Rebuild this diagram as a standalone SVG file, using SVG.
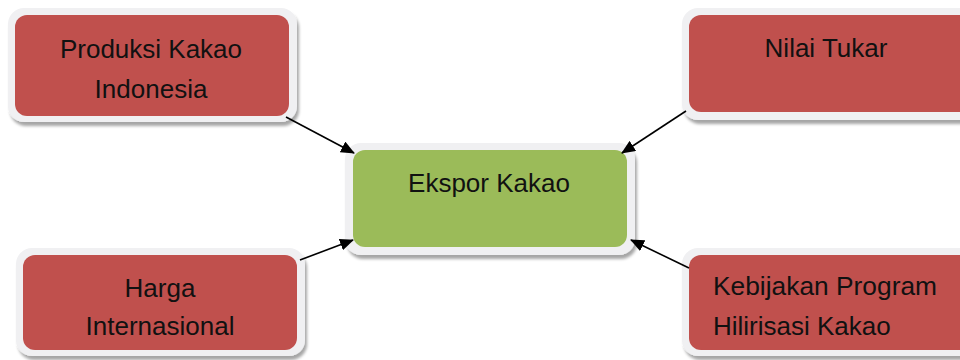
<svg xmlns="http://www.w3.org/2000/svg" width="960" height="360" viewBox="0 0 960 360">
<defs>
<filter id="sh" x="-10%" y="-10%" width="130%" height="140%">
<feGaussianBlur in="SourceAlpha" stdDeviation="1.5"/>
<feOffset dx="2" dy="4" result="b"/>
<feComponentTransfer><feFuncA type="linear" slope="0.35"/></feComponentTransfer>
<feMerge><feMergeNode/><feMergeNode in="SourceGraphic"/></feMerge>
</filter>
<marker id="ah" viewBox="0 0 14 12" refX="13" refY="6" markerWidth="14" markerHeight="12" markerUnits="userSpaceOnUse" orient="auto">
<path d="M0,0 L14,6 L0,12 z" fill="#000"/>
</marker>
<style>
.frame{fill:#f0f0f2;filter:url(#sh)}
.red{fill:#c0504d}
.green{fill:#9bbb59}
.t{font-family:"Liberation Sans",Arial,sans-serif;font-size:26px;fill:#111}
.c{text-anchor:middle}
.ln{stroke:#000;stroke-width:1.6;fill:none;marker-end:url(#ah)}
</style>
</defs>
<rect width="960" height="360" fill="#fff"/>
<g id="produksi">
<rect class="frame" x="8" y="8" width="289" height="114" rx="16"/>
<rect class="red" x="15" y="15" width="274" height="101" rx="12"/>
<text class="t c" x="151" y="58">Produksi Kakao</text>
<text class="t c" x="151" y="98">Indonesia</text>
</g>
<g id="nilai">
<rect class="frame" x="682" y="8" width="300" height="112" rx="16"/>
<rect class="red" x="689" y="15" width="290" height="97" rx="12"/>
<text class="t c" x="826" y="57">Nilai Tukar</text>
</g>
<g id="ekspor">
<rect class="frame" x="345" y="143" width="290" height="112" rx="16"/>
<rect class="green" x="353" y="150" width="274" height="97" rx="12"/>
<text class="t c" x="489" y="192">Ekspor Kakao</text>
</g>
<g id="harga">
<rect class="frame" x="16" y="248" width="289" height="108" rx="16"/>
<rect class="red" x="23" y="255" width="274" height="95" rx="12"/>
<text class="t c" x="160" y="297">Harga</text>
<text class="t c" x="160" y="335">Internasional</text>
</g>
<g id="kebijakan">
<rect class="frame" x="682" y="248" width="300" height="108" rx="16"/>
<rect class="red" x="689" y="255" width="290" height="95" rx="12"/>
<text class="t" x="713" y="295" textLength="224" lengthAdjust="spacingAndGlyphs">Kebijakan Program</text>
<text class="t" x="713" y="335">Hilirisasi Kakao</text>
</g>
<g id="connectors">
<line class="ln" x1="286" y1="117" x2="354" y2="153"/>
<line class="ln" x1="686" y1="111" x2="622" y2="153"/>
<line class="ln" x1="300" y1="260" x2="353" y2="240"/>
<line class="ln" x1="689" y1="268" x2="631" y2="240"/>
</g>
</svg>
